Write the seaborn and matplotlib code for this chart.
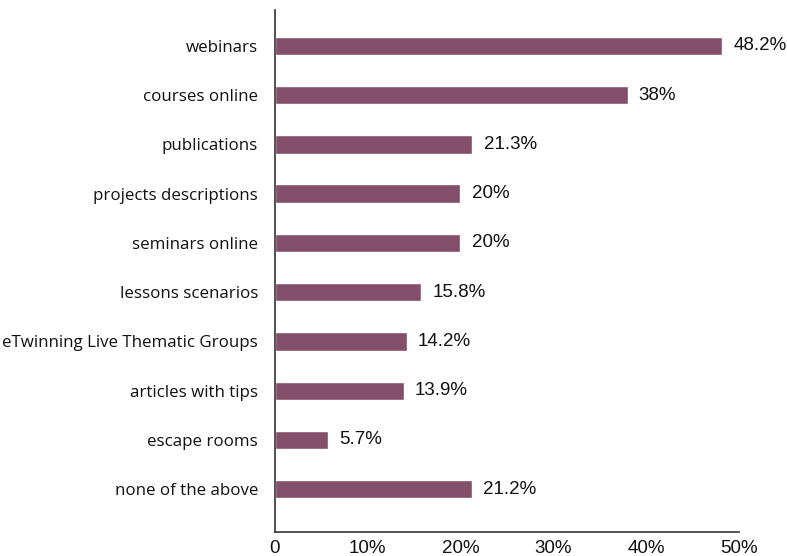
import matplotlib
matplotlib.use("Agg")
import matplotlib.pyplot as plt
import seaborn as sns
import pandas as pd

categories = [
    "webinars",
    "courses online",
    "publications",
    "projects descriptions",
    "seminars online",
    "lessons scenarios",
    "eTwinning Live Thematic Groups",
    "articles with tips",
    "escape rooms",
    "none of the above",
]
values = [48.2, 38, 21.3, 20, 20, 15.8, 14.2, 13.9, 5.7, 21.2]
tick_values = [0, 10, 20, 30, 40, 50]
tick_labels = ["0", "10%", "20%", "30%", "40%", "50%"]

df = pd.DataFrame({"category": categories, "value": values})

sns.set_theme(style="white")
plt.rcParams["font.family"] = ["Open Sans", "DejaVu Sans"]

fig = plt.figure(figsize=(7.87, 5.56), dpi=100)
ax = fig.add_axes([0.349, 0.043, 0.590, 0.939])

bar_color = "#834f6b"
sns.barplot(data=df, x="value", y="category", orient="h", color=bar_color,
            width=0.375, saturation=1, ax=ax)

for i, v in enumerate(values):
    ax.text(v + 1.2, i, f"{v:g}%", va="center", ha="left", fontsize=13.5,
            family=["Liberation Sans"], color="#111111")

ax.set_xlim(0, 50)
ax.set_ylim(9.87, -0.73)
ax.set_xticks(tick_values)
ax.set_xticklabels(tick_labels, family=["Liberation Sans"], fontsize=13.5, color="#111111")
ax.tick_params(axis="x", direction="in", length=9, width=1.2, color="#333333", pad=6)
ax.tick_params(axis="y", length=0, pad=12, labelsize=12.2, labelcolor="#111111")
ax.set_xlabel("")
ax.set_ylabel("")

for side in ["top", "right"]:
    ax.spines[side].set_visible(False)
for side in ["left", "bottom"]:
    ax.spines[side].set_color("#333333")
    ax.spines[side].set_linewidth(1.2)

fig.savefig("out.png", dpi=100)
